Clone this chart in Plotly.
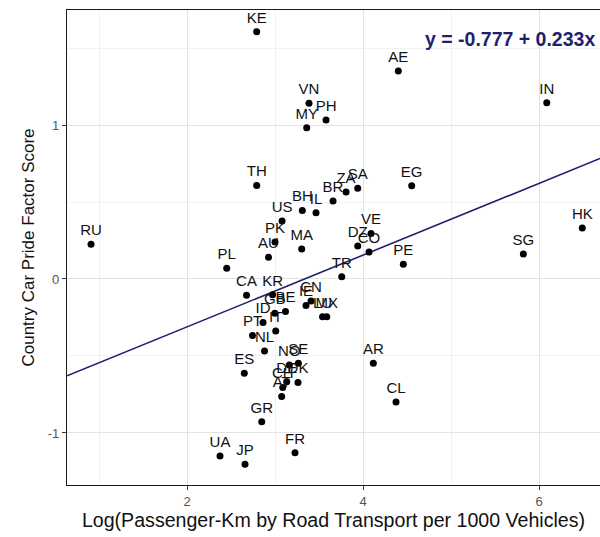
import plotly.graph_objects as go

countries = ["RU", "KE", "VN", "PH", "MY", "AE", "IN", "TH", "BH", "IL", "BR", "ZA", "SA", "EG",
             "US", "PK", "AU", "MA", "VE", "DZ", "CO", "PE", "SG", "HK", "PL", "TR", "CA", "KR",
             "CN", "IE", "LU", "MX", "GB", "BE", "ID", "IT", "PT", "NL", "ES", "NO", "SE", "DE",
             "DK", "CH", "AT", "GR", "UA", "JP", "FR", "AR", "CL"]
log_pkm = [0.909, 2.792, 3.386, 3.580, 3.360, 4.401, 6.088, 2.792, 3.310, 3.466, 3.659, 3.807, 3.940, 4.553,
           3.080, 3.000, 2.926, 3.303, 4.091, 3.940, 4.068, 4.458, 5.822, 6.492, 2.451, 3.758, 2.676, 2.972,
           3.409, 3.352, 3.540, 3.588, 2.998, 3.119, 2.864, 3.008, 2.744, 2.881, 2.651, 3.163, 3.265, 3.133,
           3.261, 3.088, 3.076, 2.849, 2.375, 2.659, 3.227, 4.117, 4.375]
pride = [0.225, 1.606, 1.141, 1.032, 0.982, 1.351, 1.145, 0.607, 0.444, 0.431, 0.506, 0.565, 0.589, 0.606,
         0.377, 0.240, 0.141, 0.195, 0.295, 0.214, 0.175, 0.095, 0.162, 0.331, 0.069, 0.015, -0.106, -0.102,
         -0.143, -0.172, -0.245, -0.245, -0.223, -0.211, -0.282, -0.338, -0.367, -0.468, -0.612, -0.558, -0.547, -0.667,
         -0.672, -0.705, -0.763, -0.927, -1.149, -1.203, -1.128, -0.547, -0.799]

intercept = -0.777
slope = 0.233
x_range = [0.636, 6.693]
y_range = [-1.338, 1.747]
x_ticks = [2, 4, 6]
y_ticks = [-1, 0, 1]
y_ticktext = ["-1", "0", "1"]

FONT = "Liberation Sans, Arial, sans-serif"

fig = go.Figure()

fig.add_trace(go.Scatter(
    x=x_range,
    y=[intercept + slope * v for v in x_range],
    mode="lines",
    line=dict(color="#1e1e72", width=1.6),
    hoverinfo="skip",
    showlegend=False,
))

fig.add_trace(go.Scatter(
    x=log_pkm, y=pride, text=countries,
    mode="markers+text",
    textposition="top center",
    textfont=dict(family=FONT, size=15, color="#111111"),
    marker=dict(color="black", size=7),
    showlegend=False,
))

fig.add_annotation(
    text="<b>y = -0.777 + 0.233x</b>",
    xref="paper", yref="paper", x=1, y=0.939,
    xanchor="right", yanchor="middle", xshift=-3,
    showarrow=False,
    font=dict(family=FONT, size=19.5, color="#1f1f6e"),
)

axis_common = dict(
    showgrid=True, gridcolor="#e3e3e3", gridwidth=1.2,
    minor=dict(showgrid=True, gridcolor="#f1f1f1", gridwidth=0.7),
    zeroline=False,
    showline=True, linecolor="#1a1a1a", linewidth=1.4,
    ticks="outside", ticklen=4, tickcolor="#333333", tickwidth=1,
    tickfont=dict(family=FONT, size=13, color="#555555"),
    automargin=False,
)

fig.update_layout(
    width=600, height=537,
    margin=dict(l=67, r=0, t=10, b=52),
    paper_bgcolor="white", plot_bgcolor="white",
    font=dict(family=FONT),
    xaxis=dict(
        range=x_range, tickvals=x_ticks, ticktext=[str(v) for v in x_ticks],
        mirror=True,
        title=dict(text="Log(Passenger-Km by Road Transport per 1000 Vehicles)",
                   font=dict(family=FONT, size=19.6, color="#111111"), standoff=4),
        **axis_common,
    ),
    yaxis=dict(
        range=y_range, tickvals=y_ticks, ticktext=y_ticktext,
        title=dict(text="Country Car Pride Factor Score",
                   font=dict(family=FONT, size=17, color="#111111"), standoff=8),
        **axis_common,
    ),
)
fig.update_xaxes(minor=dict(tickvals=[1, 3, 5], ticks=""))
fig.update_yaxes(minor=dict(tickvals=[-0.5, 0.5, 1.5], ticks=""))

fig.write_html("out.html", config=dict(displayModeBar=False),
               post_script="document.body.style.margin='0';document.body.style.overflow='hidden';")
